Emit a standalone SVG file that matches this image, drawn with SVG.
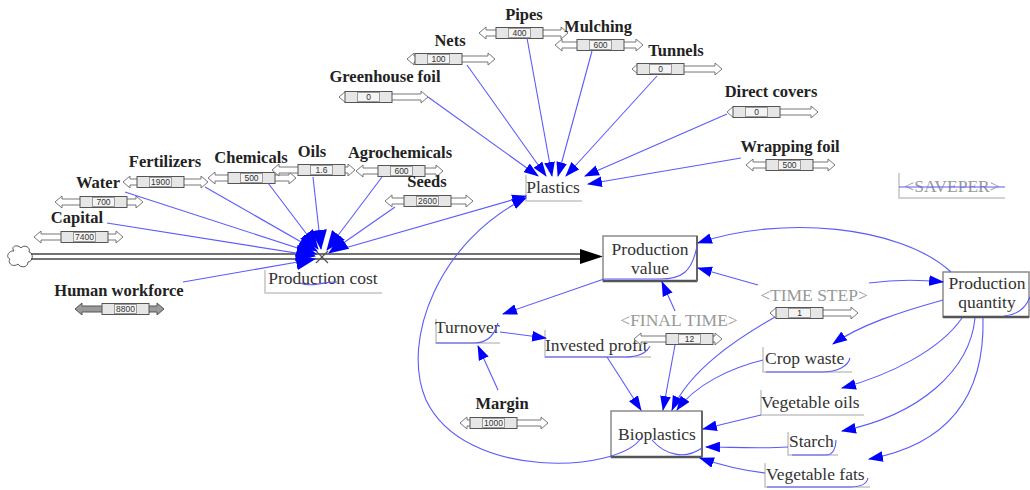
<svg xmlns="http://www.w3.org/2000/svg" width="1030" height="490" viewBox="0 0 1030 490">
<defs>
<marker id="ah" viewBox="0 0 14 10" refX="13" refY="5" markerWidth="15" markerHeight="11" markerUnits="userSpaceOnUse" orient="auto"><path d="M0,0 L14,5 L0,10 Z" fill="#0000ff"/></marker>
<marker id="ahv" viewBox="0 0 20 16" refX="19" refY="8" markerWidth="20" markerHeight="16" markerUnits="userSpaceOnUse" orient="auto"><path d="M0,0 L20,8 L0,16 Z" fill="#0000ff"/></marker>
</defs>
<style>
.c{fill:none;stroke:#5a5aff;stroke-width:1.1}
.ar{marker-end:url(#ah)}
.av{marker-end:url(#ahv)}
.lb{font-family:"Liberation Serif",serif;font-weight:bold;font-size:16.5px;fill:#222;text-anchor:middle}
.tx{font-family:"Liberation Serif",serif;font-size:17.5px;fill:#333}
.mid{text-anchor:middle}
.sh{fill:#999}
.sa{fill:#fff;stroke:#777;stroke-width:1}
.sad{fill:#9a9a9a;stroke:#555;stroke-width:1}
.sb{fill:#e6e6e6;stroke:#555;stroke-width:1}
.sk{fill:#f4f4f4;stroke:#888;stroke-width:0.8}
.sv{font-family:"Liberation Sans",sans-serif;font-size:8.5px;fill:#333;text-anchor:middle}
.ub{fill:none;stroke:#c4c4c4;stroke-width:1.5}
.lv{fill:#fff;stroke:#8a8a8a;stroke-width:1.5}
.lvb{stroke:#555;stroke-width:2.5}
.pipe{stroke:#444;stroke-width:1.3;fill:none}
</style>

<!-- Flow pipe -->
<g id="flow">
<path d="M14,251 C10,246 18,244 21,248 C24,244 31,247 29,252 C34,253 33,262 28,262 C28,268 20,268 18,264 C13,268 7,263 10,259 C5,257 9,250 14,251 Z" fill="#fff" stroke="#555" stroke-width="1"/>
<line class="pipe" x1="31" y1="254" x2="582" y2="254"/>
<line class="pipe" x1="31" y1="259" x2="582" y2="259"/>
<polygon points="580,249 603,256.5 580,264" fill="#000"/>
</g>

<!-- Production cost -->
<g id="production-cost">
<line x1="316" y1="251" x2="328" y2="263" stroke="#555" stroke-width="1.2"/>
<line x1="328" y1="251" x2="316" y2="263" stroke="#555" stroke-width="1.2"/>
<path class="ub" d="M265,270 V293 H382"/>
<text class="tx mid" x="323" y="284">Production cost</text>
</g>

<!-- Constants with sliders -->
<g id="pipes"><text class="lb" x="524" y="20">Pipes</text>
<path class="sa" d="M479,33 L486,27 V30 H561 V27 L568,33 L561,39 V36 H486 V39 Z"/><rect class="sb" x="496" y="27.5" width="47" height="11"/><rect class="sk" x="508.5" y="28.5" width="22" height="9"/><text class="sv" x="519.5" y="36">400</text></g>
<g id="mulching"><text class="lb" x="598" y="32">Mulching</text>
<path class="sa" d="M555,45 L562,39 V42 H636 V39 L643,45 L636,51 V48 H562 V51 Z"/><rect class="sb" x="577" y="39.5" width="47" height="11"/><rect class="sk" x="589.5" y="40.5" width="22" height="9"/><text class="sv" x="600.5" y="48">600</text></g>
<g id="nets"><text class="lb" x="450" y="46">Nets</text>
<path class="sa" d="M407,59 L414,53 V56 H488 V53 L495,59 L488,65 V62 H414 V65 Z"/><rect class="sb" x="415" y="53.5" width="47" height="11"/><rect class="sk" x="427.5" y="54.5" width="22" height="9"/><text class="sv" x="438.5" y="62">100</text></g>
<g id="tunnels"><text class="lb" x="676" y="56">Tunnels</text>
<path class="sa" d="M632,69 L639,63 V66 H715 V63 L722,69 L715,75 V72 H639 V75 Z"/><rect class="sb" x="637" y="63.5" width="47" height="11"/><rect class="sk" x="649.5" y="64.5" width="22" height="9"/><text class="sv" x="660.5" y="72">0</text></g>
<g id="greenhouse-foil"><text class="lb" x="385" y="82">Greenhouse foil</text>
<path class="sa" d="M339,97 L346,91 V94 H421 V91 L428,97 L421,103 V100 H346 V103 Z"/><rect class="sb" x="345" y="91.5" width="47" height="11"/><rect class="sk" x="357.5" y="92.5" width="22" height="9"/><text class="sv" x="368.5" y="100">0</text></g>
<g id="direct-covers"><text class="lb" x="771" y="97">Direct covers</text>
<path class="sa" d="M727,112 L734,106 V109 H811 V106 L818,112 L811,118 V115 H734 V118 Z"/><rect class="sb" x="733" y="106.5" width="47" height="11"/><rect class="sk" x="745.5" y="107.5" width="22" height="9"/><text class="sv" x="756.5" y="115">0</text></g>
<g id="wrapping-foil"><text class="lb" x="790" y="152">Wrapping foil</text>
<path class="sa" d="M746,165 L753,159 V162 H828 V159 L835,165 L828,171 V168 H753 V171 Z"/><rect class="sb" x="766" y="159.5" width="47" height="11"/><rect class="sk" x="778.5" y="160.5" width="22" height="9"/><text class="sv" x="789.5" y="168">500</text></g>
<g id="fertilizers"><text class="lb" x="165" y="167">Fertilizers</text>
<path class="sa" d="M123,182 L130,176 V179 H201 V176 L208,182 L201,188 V185 H130 V188 Z"/><rect class="sb" x="137" y="176.5" width="47" height="11"/><rect class="sk" x="149.5" y="177.5" width="22" height="9"/><text class="sv" x="160.5" y="185">1900</text></g>
<g id="chemicals"><text class="lb" x="251" y="163">Chemicals</text>
<path class="sa" d="M208,178 L215,172 V175 H289 V172 L296,178 L289,184 V181 H215 V184 Z"/><rect class="sb" x="228" y="172.5" width="47" height="11"/><rect class="sk" x="240.5" y="173.5" width="22" height="9"/><text class="sv" x="251.5" y="181">500</text></g>
<g id="oils"><text class="lb" x="312" y="157">Oils</text>
<path class="sa" d="M272,170 L279,164 V167 H348 V164 L355,170 L348,176 V173 H279 V176 Z"/><rect class="sb" x="298" y="164.5" width="47" height="11"/><rect class="sk" x="310.5" y="165.5" width="22" height="9"/><text class="sv" x="321.5" y="173">1.6</text></g>
<g id="agrochemicals"><text class="lb" x="400" y="158">Agrochemicals</text>
<path class="sa" d="M356,171 L363,165 V168 H436 V165 L443,171 L436,177 V174 H363 V177 Z"/><rect class="sb" x="378" y="165.5" width="47" height="11"/><rect class="sk" x="390.5" y="166.5" width="22" height="9"/><text class="sv" x="401.5" y="174">600</text></g>
<g id="seeds"><text class="lb" x="427" y="187">Seeds</text>
<path class="sa" d="M385,201 L392,195 V198 H466 V195 L473,201 L466,207 V204 H392 V207 Z"/><rect class="sb" x="404" y="195.5" width="47" height="11"/><rect class="sk" x="416.5" y="196.5" width="22" height="9"/><text class="sv" x="427.5" y="204">2600</text></g>
<g id="water"><text class="lb" x="98" y="188">Water</text>
<path class="sa" d="M55,202 L62,196 V199 H136 V196 L143,202 L136,208 V205 H62 V208 Z"/><rect class="sb" x="80" y="196.5" width="47" height="11"/><rect class="sk" x="92.5" y="197.5" width="22" height="9"/><text class="sv" x="103.5" y="205">700</text></g>
<g id="capital"><text class="lb" x="77" y="223">Capital</text>
<path class="sa" d="M34,237 L41,231 V234 H116 V231 L123,237 L116,243 V240 H41 V243 Z"/><rect class="sb" x="61" y="231.5" width="47" height="11"/><rect class="sk" x="73.5" y="232.5" width="22" height="9"/><text class="sv" x="84.5" y="240">7400</text></g>
<g id="human-workforce"><text class="lb" x="119" y="296">Human workforce</text>
<path class="sad" d="M75,309 L82,303 V306 H157 V303 L164,309 L157,315 V312 H82 V315 Z"/><rect class="sb" x="102" y="303.5" width="47" height="11"/><rect class="sk" x="114.5" y="304.5" width="22" height="9"/><text class="sv" x="125.5" y="312">8800</text></g>
<g id="margin"><text class="lb" x="502" y="409">Margin</text>
<path class="sa" d="M460,423 L467,417 V420 H541 V417 L548,423 L541,429 V426 H467 V429 Z"/><rect class="sb" x="470" y="417.5" width="47" height="11"/><rect class="sk" x="482.5" y="418.5" width="22" height="9"/><text class="sv" x="493.5" y="426">1000</text></g>

<!-- Auxiliaries -->
<g id="plastics"><path class="ub" d="M526,175 V201 H582"/><text class="tx mid" x="553" y="193">Plastics</text></g>
<g id="saveper"><path class="ub" d="M899,173 V198 H1005"/><text class="tx mid sh" x="952" y="192">&lt;SAVEPER&gt;</text><line x1="899" y1="187" x2="1005" y2="187" stroke="#5a5aff" stroke-width="1.1"/></g>
<g id="turnover"><path class="ub" d="M436,319 V343 H500"/><text class="tx" x="435" y="333">Turnover</text></g>
<g id="invested-profit"><path class="ub" d="M545,330 V357 H651"/><text class="tx" x="545" y="351">Invested profit</text></g>
<g id="crop-waste"><path class="ub" d="M763,347 V372 H852"/><text class="tx" x="765" y="364">Crop waste</text></g>
<g id="vegetable-oils"><path class="ub" d="M761,390 V415 H864"/><text class="tx" x="761" y="408">Vegetable oils</text></g>
<g id="starch"><path class="ub" d="M788,432 V455 H838"/><text class="tx" x="789" y="447">Starch</text></g>
<g id="vegetable-fats"><path class="ub" d="M765,463 V487 H870"/><text class="tx" x="766" y="480">Vegetable fats</text></g>

<!-- Shadow variables -->
<g id="time-step"><text class="tx mid sh" x="814" y="301">&lt;TIME STEP&gt;</text>
<path class="sa" d="M770,313 L777,307 V310 H851 V307 L858,313 L851,319 V316 H777 V319 Z"/><rect class="sb" x="776" y="307.5" width="47" height="11"/><rect class="sk" x="788.5" y="308.5" width="22" height="9"/><text class="sv" x="799.5" y="316">1</text></g>
<g id="final-time"><text class="tx mid sh" x="679" y="326">&lt;FINAL TIME&gt;</text>
<path class="sa" d="M634,339 L641,333 V336 H715 V333 L722,339 L715,345 V342 H641 V345 Z"/><rect class="sb" x="666" y="333.5" width="47" height="11"/><rect class="sk" x="678.5" y="334.5" width="22" height="9"/><text class="sv" x="689.5" y="342">12</text></g>

<!-- Levels -->
<g id="production-value"><rect class="lv" x="603" y="236" width="94" height="45"/><line class="lvb" x1="603" y1="281" x2="697" y2="281"/><line x1="697" y1="236" x2="697" y2="281" stroke="#666" stroke-width="2"/>
<text class="tx mid" x="650" y="255">Production</text><text class="tx mid" x="650" y="274">value</text></g>
<g id="production-quantity"><rect class="lv" x="943" y="272" width="86" height="45"/><line class="lvb" x1="943" y1="317" x2="1029" y2="317"/>
<text class="tx mid" x="987" y="289">Production</text><text class="tx mid" x="987" y="308">quantity</text></g>
<g id="bioplastics"><rect class="lv" x="611" y="411" width="91" height="46"/><line class="lvb" x1="611" y1="457" x2="702" y2="457"/><line x1="702" y1="411" x2="702" y2="457" stroke="#666" stroke-width="2"/>
<text class="tx mid" x="657" y="440">Bioplastics</text></g>

<!-- Connectors -->
<g id="connectors">
<path class="c ar" d="M428,97 L538,176"/>
<path class="c ar" d="M467,65 L546,176"/>
<path class="c ar" d="M527,38 L552,176"/>
<path class="c ar" d="M592,51 L558,176"/>
<path class="c ar" d="M657,76 L566,176"/>
<path class="c ar" d="M727,114 L585,176"/>
<path class="c ar" d="M741,158 L588,184"/>
<path class="c ar" d="M345,248 L526,196"/>
<path class="c ar" d="M641,438 C620,472 465,482 426,400 C400,340 440,240 526,198"/>
<path class="c av" d="M125,192 L316,254"/>
<path class="c av" d="M107,223 L315,256"/>
<path class="c av" d="M205,187 L317,251"/>
<path class="c av" d="M268,183 L318,249"/>
<path class="c av" d="M313,177 L321,249"/>
<path class="c av" d="M382,177 L327,250"/>
<path class="c av" d="M395,207 L329,253"/>
<path class="c av" d="M183,282 L315,259"/>
<path class="c ar" d="M951,272 C900,225 780,215 698,243"/>
<path class="c ar" d="M758,285 L698,268"/>
<path class="c ar" d="M869,283 Q905,278 943,282"/>
<path class="c ar" d="M675,311 L662,282"/>
<path class="c ar" d="M604,279 L503,314"/>
<path class="c ar" d="M500,332 L546,338"/>
<path class="c ar" d="M498,390 L478,346"/>
<path class="c ar" d="M607,357 L641,410"/>
<path class="c ar" d="M675,345 L663,410"/>
<path class="c ar" d="M775,317 C735,340 690,370 672,410"/>
<path class="c ar" d="M763,360 C730,368 695,385 677,410"/>
<path class="c ar" d="M761,415 C740,420 720,425 703,429"/>
<path class="c ar" d="M788,447 C760,449 730,447 706,447"/>
<path class="c ar" d="M765,473 C740,470 720,465 700,458"/>
<path class="c ar" d="M943,300 C900,312 860,325 833,344"/>
<path class="c ar" d="M962,318 C940,350 890,375 842,388"/>
<path class="c ar" d="M975,318 C970,370 920,415 842,431"/>
<path class="c ar" d="M983,318 C985,400 945,445 869,459"/>
<path class="c" d="M697,246 C692,272 682,279 660,279 L604,279"/>
<path class="c" d="M436,343 L474,343 C488,343 494,335 498,323"/>
<path class="c" d="M545,357 L625,357 C640,357 647,352 650,346"/>
<path class="c" d="M766,372 L822,372 C838,372 848,366 850,358"/>
<path class="c" d="M792,455 L826,455 C833,455 836,448 836,440"/>
<path class="c" d="M767,487 L850,487 C862,487 867,483 868,478"/>
<path class="c" d="M652,440 C665,455 685,460 702,448"/>
<path class="c" d="M1030,297 C1025,310 1015,315 1004,316"/>
<path class="c" d="M300,283 C312,288 325,281 337,282"/>
</g>
</svg>
